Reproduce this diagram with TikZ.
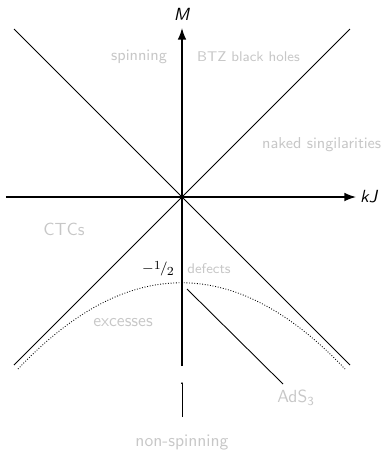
\documentclass[tikz,border=0pt]{standalone}
\usepackage{xcolor}
\usepackage{tikz}
\usetikzlibrary{arrows.meta,calc,positioning}
\colorlet{regiongray}{black!22}

\begin{document}
\begin{tikzpicture}[>=Latex, x=0.02cm, y=-0.02cm, font=\sffamily,
    axis/.style={line width=0.8pt},
    ray/.style={line width=0.5pt},
    region/.style={text=regiongray, inner sep=1pt}]
  \useasboundingbox (0,0) rectangle (391,451);
  \coordinate (O) at (182,197);
  \coordinate (Xl) at (6,197);
  \coordinate (Xr) at (356,197);
  \coordinate (Yb) at (182,366);
  \coordinate (Yt) at (182,28);
  \coordinate (NW) at (14,29);
  \coordinate (NE) at (350,29);
  \coordinate (SW) at (14,365);
  \coordinate (SE) at (350,365);
  % axes
  \draw[axis, ->] (Xl) -- (Xr) node[right, inner sep=2pt] {\textit{kJ}};
  \draw[axis, ->] (Yb) -- (Yt) node[above, inner sep=4pt] {\textit{M}};
  % light cone
  \draw[ray] (NW) -- (O) -- (SE);
  \draw[ray] (NE) -- (O) -- (SW);
  % M = -1/2 curve
  \coordinate (Cl) at (18,369);
  \coordinate (Cr) at (345,369);
  \draw[densely dotted, line width=0.5pt] (Cl) .. controls (127,254) and (236,254) .. (Cr);
  \coordinate (A1) at (187,289);
  \coordinate (A2) at (283,384);
  \draw[ray] (A1) -- (A2);
  % non-spinning pointer
  \coordinate (P1) at (182,417);
  \coordinate (P2) at (182,382);
  \draw[line width=0.4pt, -{Latex[length=1pt,width=1.2pt]}] (P1) -- (P2);
  % labels
  \node[region, anchor=east, font=\sffamily\small] (spin) at (169,57) {spinning};
  \node[region, anchor=west, font=\sffamily\footnotesize] (btz) at (195,57) {BTZ black holes};
  \node[region, anchor=west, font=\sffamily\small] (naked) at (260,145) {naked singilarities};
  \node[region] (ctc) at (64,229) {CTCs};
  \node[inner sep=1pt, font=\footnotesize] (half) at (158,269) {$-$\raisebox{0.5ex}{\scriptsize 1}\kern-0.05em/\kern-0.05em\raisebox{-0.4ex}{\scriptsize 2}};
  \node[region, font=\sffamily\footnotesize] (def) at (209,269) {defects};
  \node[region] (exc) at (123,323) {excesses};
  \node[region] (ads) at (296,398) {AdS\textsubscript{3}};
  \node[region] (nonspin) at (182,443) {non-spinning};
\end{tikzpicture}
\end{document}
